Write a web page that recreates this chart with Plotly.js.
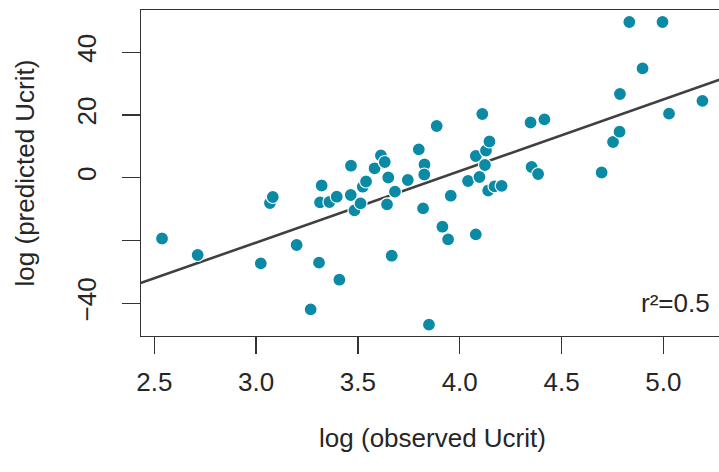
<!DOCTYPE html>
<html>
<head>
<meta charset="utf-8">
<script src="https://cdn.plot.ly/plotly-3.0.1.min.js"></script>
<style>
html, body { margin: 0; padding: 0; overflow: hidden; background: #fff; }
#chart { width: 724px; height: 472px; }
</style>
</head>
<body>
<div id="chart"></div>
<script>
// observed (x) and predicted (y) log Ucrit
const obsX = [2.538, 2.713, 3.023, 3.068, 3.082, 3.199, 3.268, 3.309, 3.322, 3.314,
  3.360, 3.396, 3.409, 3.466, 3.465, 3.483, 3.513, 3.524, 3.540, 3.582,
  3.613, 3.632, 3.649, 3.682, 3.643, 3.666, 3.745, 3.799, 3.827, 3.826,
  3.820, 3.887, 3.849, 3.915, 3.943, 3.956, 4.041, 4.097, 4.079, 4.124,
  4.129, 4.146, 4.111, 4.079, 4.140, 4.171, 4.206, 4.348, 4.416, 4.353,
  4.385, 4.697, 4.753, 4.785, 4.787, 4.833, 4.996, 4.898, 5.028, 5.192];
const predY = [-19.38, -24.64, -27.28, -8.06, -6.15, -21.45, -41.94, -27.09, -2.49, -7.84,
  -7.75, -6.06, -32.51, 3.82, -5.51, -10.39, -8.16, -2.87, -1.21, 3.00,
  7.08, 5.00, 0.06, -4.46, -8.48, -24.86, -0.73, 9.05, 4.21, 1.02,
  -9.75, 16.48, -46.85, -15.62, -19.63, -5.74, -1.05, 0.22, 6.92, 4.05,
  8.67, 11.54, 20.30, -18.04, -4.08, -2.74, -2.58, 17.59, 18.61, 3.41,
  1.18, 1.66, 11.38, 14.66, 26.68, 49.63, 49.63, 34.87, 20.40, 24.51];

// fitted regression line
const fitSlope = 22.79;
const fitIntercept = -89.03;
const rSquaredLabel = "r²=0.5";

const xTicks = [2.5, 3.0, 3.5, 4.0, 4.5, 5.0];
const xTickLabels = ["2.5", "3.0", "3.5", "4.0", "4.5", "5.0"];
const yTicks = [-40, -20, 0, 20, 40];
const yTickLabels = ["\u221240", "", "0", "20", "40"];

const xTitle = "log (observed Ucrit)";
const yTitle = "log (predicted Ucrit)";

const xRange = [2.4347, 5.298];
const yRange = [-50.45, 53.45];

const fitX = [xRange[0] - 0.2, xRange[1] + 0.2];
const fitY = fitX.map(v => fitSlope * v + fitIntercept);

const FONT = "Liberation Sans, Arial, sans-serif";
const FS = 26;
const INK = "#262626";

const traces = [
  {
    type: "scatter", mode: "lines", x: fitX, y: fitY,
    line: { color: "#404040", width: 2.6 }, hoverinfo: "skip", showlegend: false
  },
  {
    type: "scatter", mode: "markers", x: obsX, y: predY,
    marker: { size: 13, color: "#0b8aa6", line: { color: "#ffffff", width: 1.2 } },
    showlegend: false
  }
];

const layout = {
  width: 724, height: 472,
  margin: { l: 141, r: 0, t: 10, b: 136 },
  paper_bgcolor: "#ffffff", plot_bgcolor: "#ffffff",
  font: { family: FONT, size: FS, color: INK },
  showlegend: false,
  xaxis: {
    range: xRange, autorange: false,
    tickmode: "array", tickvals: xTicks, ticktext: xTickLabels,
    ticks: "outside", ticklen: 17, tickwidth: 1.3, tickcolor: "#333",
    showline: true, mirror: true, linecolor: "#333", linewidth: 1.3,
    showgrid: false, zeroline: false,
    tickfont: { family: FONT, size: FS, color: INK },
    ticklabelstandoff: 5,
    title: { text: xTitle, font: { family: FONT, size: FS, color: INK }, standoff: 33 }
  },
  yaxis: {
    range: yRange, autorange: false,
    tickmode: "array", tickvals: yTicks, ticktext: yTickLabels,
    ticks: "outside", ticklen: 18, tickwidth: 1.3, tickcolor: "#333",
    tickangle: -90,
    showline: true, mirror: true, linecolor: "#333", linewidth: 1.3,
    showgrid: false, zeroline: false,
    tickfont: { family: FONT, size: FS, color: INK },
    ticklabelstandoff: 15,
    title: { text: yTitle, font: { family: FONT, size: FS, color: INK }, standoff: 30 }
  },
  annotations: [
    {
      xref: "x", yref: "y", x: 5.238, y: -39.9, xanchor: "right", yanchor: "middle",
      text: rSquaredLabel, showarrow: false,
      font: { family: FONT, size: FS, color: INK }
    }
  ]
};

Plotly.newPlot("chart", traces, layout, { displayModeBar: false, staticPlot: true });
</script>
</body>
</html>
